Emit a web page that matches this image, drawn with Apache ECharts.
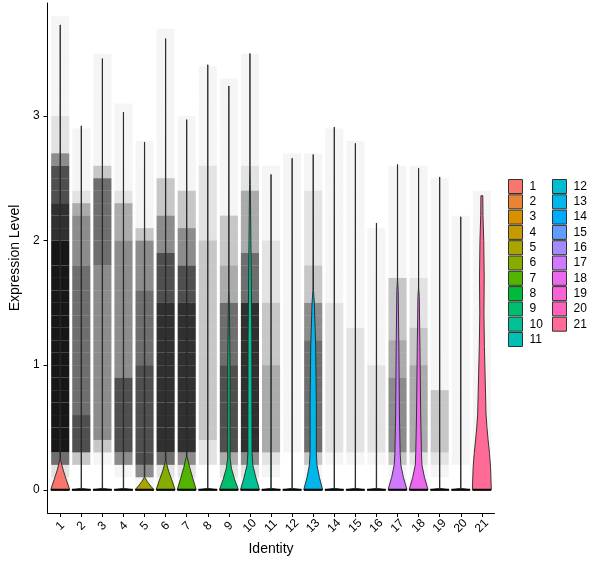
<!DOCTYPE html>
<html>
<head>
<meta charset="utf-8">
<script src="https://cdn.jsdelivr.net/npm/echarts@6/dist/echarts.min.js"></script>
<style>
html,body{margin:0;padding:0;background:#fff;}
#chart{width:600px;height:568px;}
</style>
</head>
<body>
<div id="chart"></div>
<script>
// ---------------- data ----------------
const categories = ['1','2','3','4','5','6','7','8','9','10','11','12','13','14','15','16','17','18','19','20','21'];
const yTickValues = [0, 1, 2, 3];
// maximum expression per identity (top of each violin)
const violinMax = [3.73, 2.92, 3.46, 3.03, 2.79, 3.62, 2.97, 3.41, 3.24, 3.50, 2.53, 2.66, 2.69, 2.91, 2.78, 2.14, 2.61, 2.58, 2.51, 2.19, 2.36];
// violin outline: [expression level, relative width (1 = widest)]
const flatShape = [[0, 1], [0.012, 0.02]];
const violinShape = [
  [[0,1],[0.08,0.65],[0.16,0.31],[0.24,0.03]],
  flatShape,
  flatShape,
  flatShape,
  [[0,1],[0.03,0.65],[0.065,0.3],[0.1,0.03]],
  [[0,1],[0.08,0.65],[0.15,0.31],[0.23,0.03]],
  [[0,1],[0.09,0.65],[0.18,0.31],[0.27,0.03]],
  flatShape,
  [[0,1],[0.08,0.62],[0.17,0.28],[0.25,0.13],[1.0,0.12],[1.45,0.06],[1.6,0.02]],
  [[0,1],[0.1,0.62],[0.2,0.3],[0.3,0.22],[1.2,0.2],[1.6,0.15],[2.0,0.1],[2.45,0.04],[2.6,0.01]],
  flatShape,
  flatShape,
  [[0,1],[0.1,0.65],[0.2,0.4],[0.3,0.33],[0.7,0.33],[1.15,0.26],[1.5,0.12],[1.6,0.03]],
  flatShape,
  flatShape,
  flatShape,
  [[0,1],[0.1,0.62],[0.2,0.35],[0.29,0.28],[0.6,0.2],[1.15,0.14],[1.6,0.07],[1.68,0.01]],
  [[0,1],[0.1,0.62],[0.2,0.35],[0.3,0.3],[0.6,0.22],[1.15,0.14],[1.55,0.07],[1.62,0.01]],
  flatShape,
  flatShape,
  [[0,1],[0.18,0.92],[0.29,0.81],[0.4,0.66],[0.5,0.54],[0.61,0.44],[0.77,0.39],[0.93,0.34],[1.15,0.27],[1.41,0.22],[1.7,0.25],[2.0,0.2],[2.2,0.12],[2.36,0.1]]
];
// density of jittered cells per 0.1 expression bin (0.0-0.1 ... 3.7-3.8), level 0..9
const pointLevels = [
  '12699999999999999999888777522211111111',
  '00377766666666666655554211111000000000',
  '00135555555555555566666663111111111000',
  '01577777755555555555444211111110000000',
  '15777777776666665555311111110000000000',
  '12688888888888877775553331111111111110',
  '12588888888888877755533311111100000000',
  '00223333333333333333222222111111110000',
  '12477777776666644433331111111111100000',
  '12588888888888866664444422111111111000',
  '01244444443333322222111111000000000000',
  '00011111111111111111111111100000000000',
  '11366666666655533322222211100000000000',
  '00122222222222211111111111111000000000',
  '00122222222221111111111111110000000000',
  '00122222221111111111100000000000000000',
  '11355555544433333111111111000000000000',
  '11244444443332222111111111000000000000',
  '01233333111111111111111110000000000000',
  '00111111111111111111110000000000000000',
  '00011111111111111111111100000000000000'
];
// share of cells with zero expression drawn as the bar at 0 (level 0..9)
const zeroLevels = [9,9,9,9,9,9,9,9,9,9,9,9,9,9,9,9,9,9,9,9,9];

// ---------------- style ----------------
function hclHex(h, c, l) {
  const hr = h * Math.PI / 180;
  const U = c * Math.cos(hr), V = c * Math.sin(hr);
  const Xn = 95.047, Yn = 100, Zn = 108.883;
  const Y = Yn * (l > 7.999592 ? Math.pow((l + 16) / 116, 3) : l / 903.3);
  const den = Xn + 15 * Yn + 3 * Zn;
  const un = 4 * Xn / den, vn = 9 * Yn / den;
  const u = U / (13 * l) + un, v = V / (13 * l) + vn;
  const X = 9 * Y * u / (4 * v);
  const Z = Y * (12 - 3 * u - 20 * v) / (4 * v);
  const x = X / 100, y = Y / 100, z = Z / 100;
  let rgb = [
    3.240479 * x - 1.537150 * y - 0.498535 * z,
    -0.969256 * x + 1.875992 * y + 0.041556 * z,
    0.055648 * x - 0.204043 * y + 1.057311 * z
  ];
  rgb = rgb.map(t => {
    t = t <= 0.0031308 ? 12.92 * t : 1.055 * Math.pow(t, 1 / 2.4) - 0.055;
    t = Math.max(0, Math.min(1, t));
    return Math.round(t * 255).toString(16).padStart(2, '0');
  });
  return '#' + rgb.join('');
}
const n = categories.length;
const colors = categories.map((_, i) => hclHex(15 + i * 360 / n, 100, 65));
const levelOpacity = [0, 0.04, 0.11, 0.22, 0.33, 0.45, 0.57, 0.69, 0.81, 0.91];
const FONT = 'Liberation Sans, Arial, sans-serif';
const HALF = 0.45, JIT = 0.43;

// ---------------- series ----------------
const shadeData = [];
pointLevels.forEach((s, ci) => {
  for (let k = 0; k < s.length; k++) {
    const lv = +s[k];
    if (lv > 0) shadeData.push([ci + 1, k / 10, (k + 1) / 10, lv]);
  }
});
const series = [];
series.push({
  type: 'custom', name: 'cells', z: 1, silent: true, clip: true,
  data: shadeData,
  renderItem: (params, api) => {
    const x = api.value(0), y0 = api.value(1), y1 = api.value(2), lv = api.value(3);
    const p0 = api.coord([x - JIT, y1]);
    const p1 = api.coord([x + JIT, y0]);
    return { type: 'rect', shape: { x: p0[0], y: p0[1], width: p1[0] - p0[0], height: p1[1] - p0[1] },
      style: { fill: 'rgba(0,0,0,' + levelOpacity[lv] + ')' } };
  }
});
categories.forEach((cat, ci) => {
  let prof = violinShape[ci].slice();
  if (prof[prof.length - 1][0] < violinMax[ci]) prof.push([violinMax[ci], 0.01]);
  series.push({
    type: 'custom', name: cat, z: 3, silent: true, clip: true,
    itemStyle: { color: colors[ci] },
    data: [[ci + 1, violinMax[ci]]],
    renderItem: (params, api) => {
      const x = api.value(0);
      const right = prof.map(p => api.coord([x + p[1] * HALF, p[0]]));
      const left = prof.slice().reverse().map(p => api.coord([x - p[1] * HALF, p[0]]));
      return { type: 'polygon', shape: { points: right.concat(left) },
        style: { fill: colors[ci], stroke: '#262626', lineWidth: 0.9 } };
    }
  });
});
series.push({
  type: 'custom', name: 'zero', z: 4, silent: true, clip: true,
  data: zeroLevels.map((lv, i) => [i + 1, 0, lv]),
  renderItem: (params, api) => {
    const x = api.value(0), lv = api.value(2);
    const a = api.coord([x - 0.44, 0]);
    const b = api.coord([x + 0.44, 0]);
    return { type: 'rect', shape: { x: a[0], y: a[1] - 1.1, width: b[0] - a[0], height: 2.2 },
      style: { fill: 'rgba(0,0,0,' + levelOpacity[lv] + ')' } };
  }
});

const chart = echarts.init(document.getElementById('chart'), null, { renderer: 'canvas' });
const legendCommon = {
  orient: 'vertical', icon: 'rect', itemWidth: 14, itemHeight: 14, itemGap: 0.3,
  padding: 0, selectedMode: false,
  itemStyle: { borderColor: '#333', borderWidth: 1 },
  textStyle: { fontFamily: FONT, fontSize: 12, color: '#000', lineHeight: 12, padding: [0, 0, 0, 2] }
};
chart.setOption({
  animation: false,
  backgroundColor: '#fff',
  grid: { left: 43, right: 105.5, top: 3, bottom: 55 },
  xAxis: {
    type: 'value', min: 0.4, max: 21.6,
    name: 'Identity', nameLocation: 'middle', nameGap: 28,
    nameTextStyle: { fontFamily: FONT, fontSize: 14, color: '#000' },
    axisLine: { show: true, onZero: false, lineStyle: { color: '#000', width: 1 } },
    axisTick: { show: true, length: 4, lineStyle: { color: '#000' }, customValues: categories.map((c, i) => i + 1) },
    axisLabel: { customValues: categories.map((c, i) => i + 1), formatter: v => categories[Math.round(v) - 1],
      rotate: 45, align: 'center', verticalAlign: 'middle', margin: 13,
      fontFamily: FONT, fontSize: 12, color: '#000' },
    splitLine: { show: false }
  },
  yAxis: {
    type: 'value', min: -0.186, max: 3.906,
    name: 'Expression Level', nameLocation: 'middle', nameGap: 14,
    nameTextStyle: { fontFamily: FONT, fontSize: 14, color: '#000' },
    axisLine: { show: true, onZero: false, lineStyle: { color: '#000', width: 1 } },
    axisTick: { show: true, length: 4, lineStyle: { color: '#000' }, customValues: yTickValues },
    axisLabel: { customValues: yTickValues, margin: 8, fontFamily: FONT, fontSize: 12, color: '#000' },
    splitLine: { show: false }
  },
  legend: [
    Object.assign({ left: 508, top: 179, data: categories.slice(0, 11) }, legendCommon),
    Object.assign({ left: 552, top: 179, data: categories.slice(11) }, legendCommon)
  ],
  series: series
});
</script>
</body>
</html>
